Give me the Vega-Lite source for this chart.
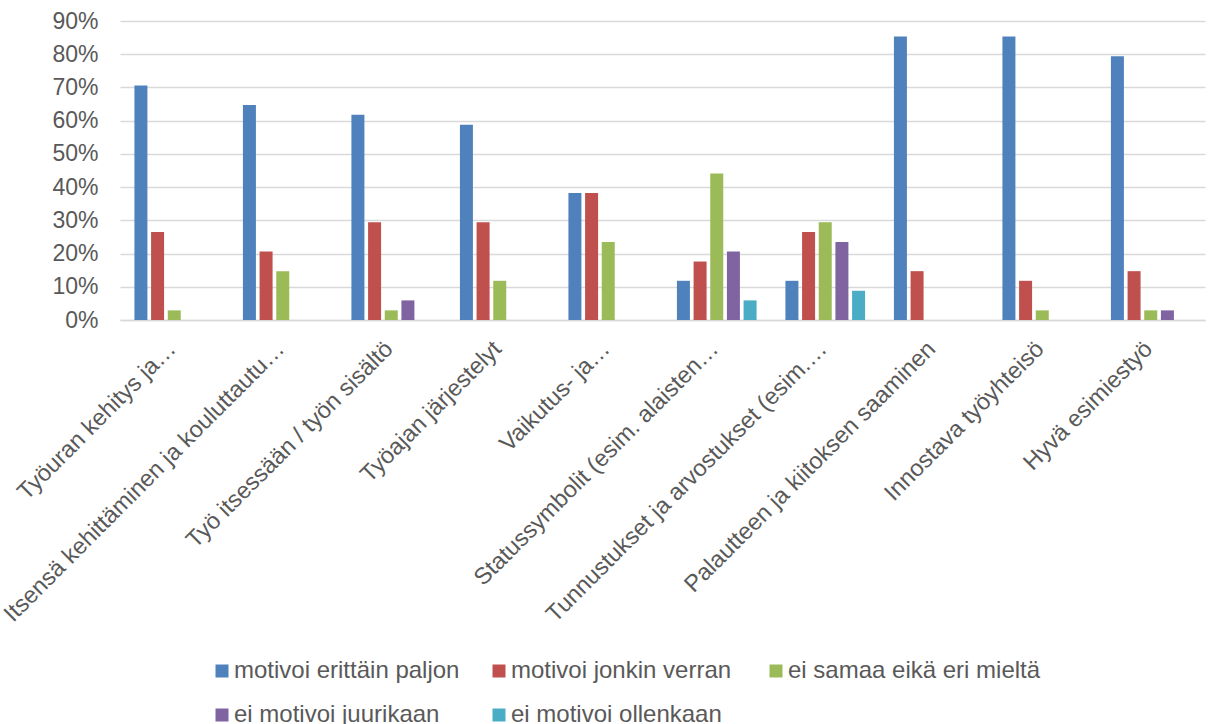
{
  "$schema": "https://vega.github.io/schema/vega-lite/v6.json",
  "autosize": "none",
  "width": 1085,
  "height": 299,
  "padding": {"left": 120, "top": 21, "right": 6, "bottom": 404},
  "background": "white",
  "config": {
    "view": {"stroke": null},
    "font": "Liberation Sans",
    "axis": {"labelColor": "#595959", "labelFont": "Liberation Sans"}
  },
  "data": {
    "values": [
      {"kohde": "Työuran kehitys ja…", "vastaus": "motivoi erittäin paljon", "osuus": 0.706},
      {"kohde": "Työuran kehitys ja…", "vastaus": "motivoi jonkin verran", "osuus": 0.265},
      {"kohde": "Työuran kehitys ja…", "vastaus": "ei samaa eikä eri mieltä", "osuus": 0.029},
      {"kohde": "Itsensä kehittäminen ja kouluttautu…", "vastaus": "motivoi erittäin paljon", "osuus": 0.647},
      {"kohde": "Itsensä kehittäminen ja kouluttautu…", "vastaus": "motivoi jonkin verran", "osuus": 0.206},
      {"kohde": "Itsensä kehittäminen ja kouluttautu…", "vastaus": "ei samaa eikä eri mieltä", "osuus": 0.147},
      {"kohde": "Työ itsessään / työn sisältö", "vastaus": "motivoi erittäin paljon", "osuus": 0.618},
      {"kohde": "Työ itsessään / työn sisältö", "vastaus": "motivoi jonkin verran", "osuus": 0.294},
      {"kohde": "Työ itsessään / työn sisältö", "vastaus": "ei samaa eikä eri mieltä", "osuus": 0.029},
      {"kohde": "Työ itsessään / työn sisältö", "vastaus": "ei motivoi juurikaan", "osuus": 0.059},
      {"kohde": "Työajan järjestelyt", "vastaus": "motivoi erittäin paljon", "osuus": 0.588},
      {"kohde": "Työajan järjestelyt", "vastaus": "motivoi jonkin verran", "osuus": 0.294},
      {"kohde": "Työajan järjestelyt", "vastaus": "ei samaa eikä eri mieltä", "osuus": 0.118},
      {"kohde": "Vaikutus- ja…", "vastaus": "motivoi erittäin paljon", "osuus": 0.382},
      {"kohde": "Vaikutus- ja…", "vastaus": "motivoi jonkin verran", "osuus": 0.382},
      {"kohde": "Vaikutus- ja…", "vastaus": "ei samaa eikä eri mieltä", "osuus": 0.235},
      {"kohde": "Statussymbolit (esim. alaisten…", "vastaus": "motivoi erittäin paljon", "osuus": 0.118},
      {"kohde": "Statussymbolit (esim. alaisten…", "vastaus": "motivoi jonkin verran", "osuus": 0.176},
      {"kohde": "Statussymbolit (esim. alaisten…", "vastaus": "ei samaa eikä eri mieltä", "osuus": 0.441},
      {"kohde": "Statussymbolit (esim. alaisten…", "vastaus": "ei motivoi juurikaan", "osuus": 0.206},
      {"kohde": "Statussymbolit (esim. alaisten…", "vastaus": "ei motivoi ollenkaan", "osuus": 0.059},
      {"kohde": "Tunnustukset ja arvostukset (esim.…", "vastaus": "motivoi erittäin paljon", "osuus": 0.118},
      {"kohde": "Tunnustukset ja arvostukset (esim.…", "vastaus": "motivoi jonkin verran", "osuus": 0.265},
      {"kohde": "Tunnustukset ja arvostukset (esim.…", "vastaus": "ei samaa eikä eri mieltä", "osuus": 0.294},
      {"kohde": "Tunnustukset ja arvostukset (esim.…", "vastaus": "ei motivoi juurikaan", "osuus": 0.235},
      {"kohde": "Tunnustukset ja arvostukset (esim.…", "vastaus": "ei motivoi ollenkaan", "osuus": 0.088},
      {"kohde": "Palautteen ja kiitoksen saaminen", "vastaus": "motivoi erittäin paljon", "osuus": 0.853},
      {"kohde": "Palautteen ja kiitoksen saaminen", "vastaus": "motivoi jonkin verran", "osuus": 0.147},
      {"kohde": "Innostava työyhteisö", "vastaus": "motivoi erittäin paljon", "osuus": 0.853},
      {"kohde": "Innostava työyhteisö", "vastaus": "motivoi jonkin verran", "osuus": 0.118},
      {"kohde": "Innostava työyhteisö", "vastaus": "ei samaa eikä eri mieltä", "osuus": 0.029},
      {"kohde": "Hyvä esimiestyö", "vastaus": "motivoi erittäin paljon", "osuus": 0.794},
      {"kohde": "Hyvä esimiestyö", "vastaus": "motivoi jonkin verran", "osuus": 0.147},
      {"kohde": "Hyvä esimiestyö", "vastaus": "ei samaa eikä eri mieltä", "osuus": 0.029},
      {"kohde": "Hyvä esimiestyö", "vastaus": "ei motivoi juurikaan", "osuus": 0.029}
    ]
  },
  "mark": {"type": "bar"},
  "encoding": {
    "x": {
      "field": "kohde",
      "type": "nominal",
      "sort": null,
      "scale": {"paddingInner": 0.232, "paddingOuter": 0.116},
      "axis": {
        "title": null,
        "labelAngle": -45,
        "labelAlign": "right",
        "labelBaseline": "middle",
        "labelFontSize": 23.5,
        "labelPadding": 25,
        "labelOffset": -2,
        "labelLimit": 600,
        "labelOverlap": false,
        "ticks": false,
        "domainColor": "#D9D9D9",
        "domainWidth": 1.5
      }
    },
    "xOffset": {
      "field": "vastaus",
      "type": "nominal",
      "scale": {
        "domain": ["motivoi erittäin paljon", "motivoi jonkin verran", "ei samaa eikä eri mieltä", "ei motivoi juurikaan", "ei motivoi ollenkaan"],
        "paddingInner": 0.22,
        "paddingOuter": 0.11
      }
    },
    "y": {
      "field": "osuus",
      "type": "quantitative",
      "scale": {"domain": [0, 0.9], "nice": false},
      "axis": {
        "title": null,
        "format": ".0%",
        "values": [0, 0.1, 0.2, 0.3, 0.4, 0.5, 0.6, 0.7, 0.8, 0.9],
        "labelFontSize": 23,
        "labelPadding": 22,
        "ticks": false,
        "domain": false,
        "gridColor": "#D9D9D9",
        "gridWidth": 1.5
      }
    },
    "color": {
      "field": "vastaus",
      "type": "nominal",
      "scale": {
        "domain": ["motivoi erittäin paljon", "motivoi jonkin verran", "ei samaa eikä eri mieltä", "ei motivoi juurikaan", "ei motivoi ollenkaan"],
        "range": ["#4F81BD", "#C0504D", "#9BBB59", "#8064A2", "#4BACC6"]
      },
      "legend": {
        "title": null,
        "orient": "none",
        "legendX": 90,
        "legendY": 638,
        "direction": "horizontal",
        "columns": 3,
        "gridAlign": "all",
        "columnPadding": -1,
        "rowPadding": 20,
        "symbolType": "square",
        "symbolSize": 169,
        "symbolStrokeWidth": 0,
        "labelFontSize": 24,
        "labelFont": "Liberation Sans",
        "labelColor": "#595959",
        "labelOffset": 0,
        "labelLimit": 400
      }
    }
  }
}
